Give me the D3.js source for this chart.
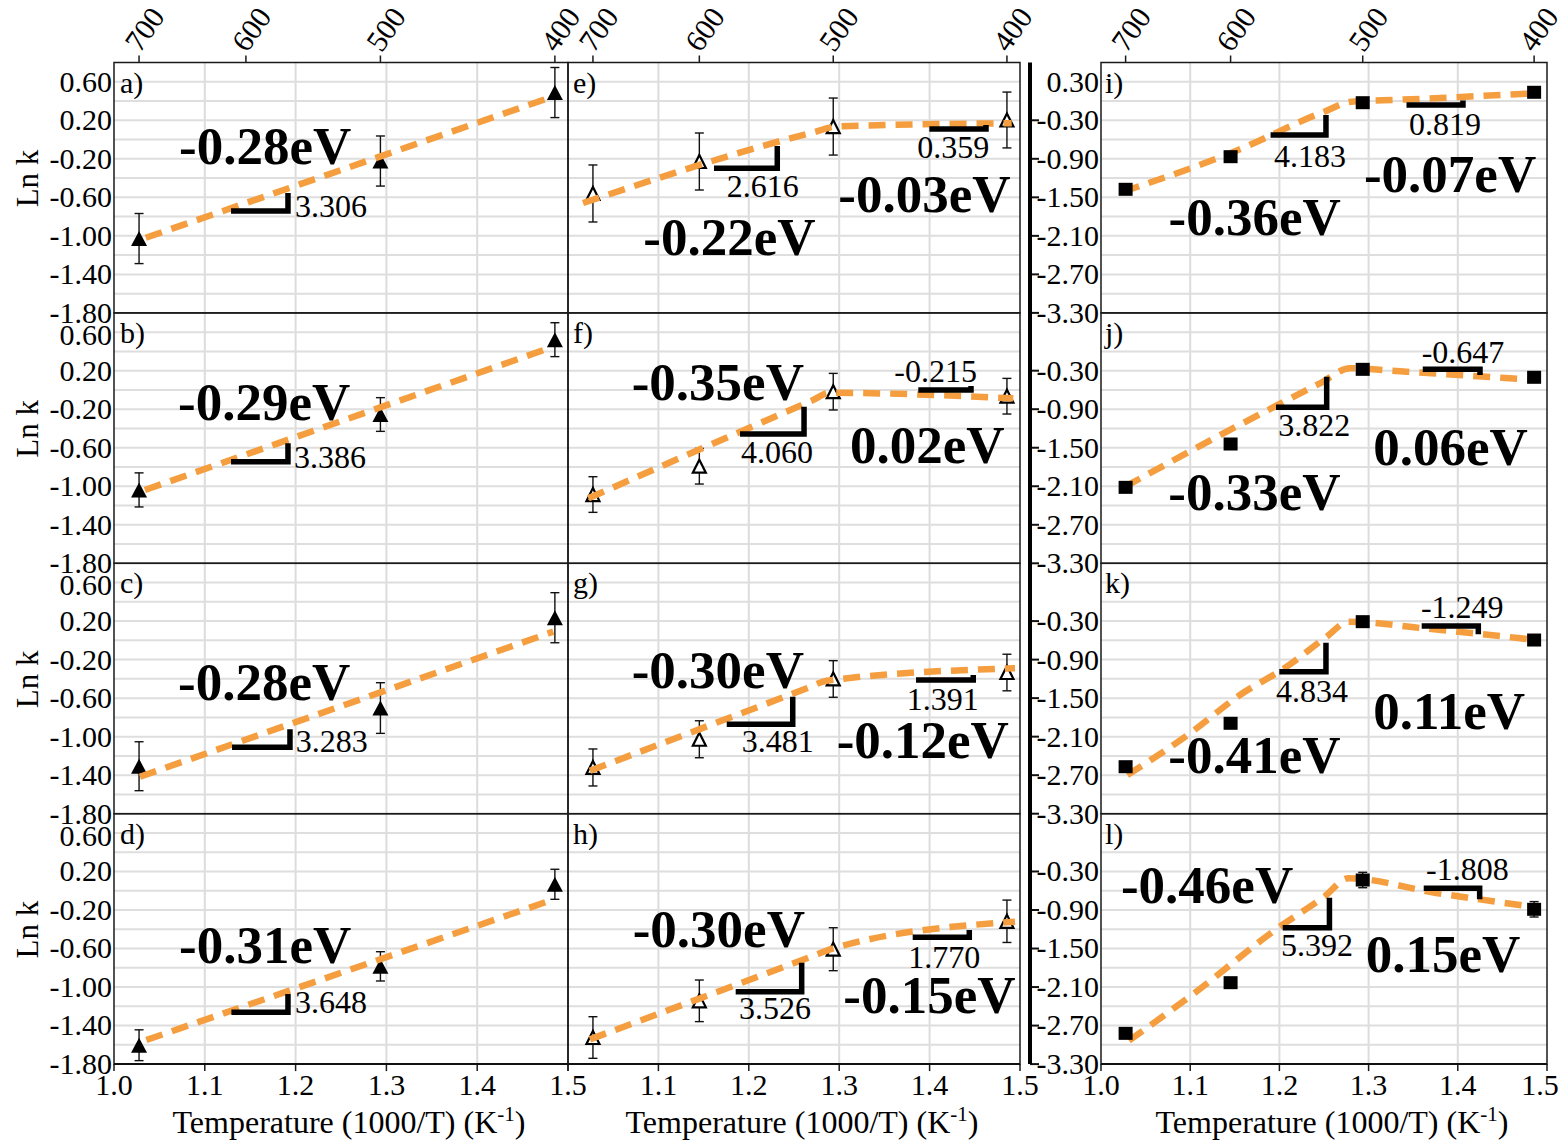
<!DOCTYPE html>
<html><head><meta charset="utf-8">
<script src="https://cdn.jsdelivr.net/npm/d3@7"></script>
<style>
body{margin:0;background:#fff}
svg{display:block}
text{font-family:'Liberation Serif','Times New Roman',serif;fill:#000}
</style>
</head><body>
<svg id="chart" width="1562" height="1141"></svg>
<script>
// ---------------- data ----------------
const panelIds = ['a','b','c','d','e','f','g','h','i','j','k','l'];
const tempsC = [700, 600, 500, 400];                 // top axis (°C)
const xTicks = [1.0, 1.1, 1.2, 1.3, 1.4, 1.5];       // 1000/T
const yTicksLeft = [0.6, 0.2, -0.2, -0.6, -1.0, -1.4, -1.8];
const yTicksRight = [0.3, -0.3, -0.9, -1.5, -2.1, -2.7, -3.3];

// ln k values (column 1 uses 700, 500, 400 °C; others all four temperatures)
const lnkA = [-1.028, -0.223, 0.488],  errA = [0.26, 0.26, 0.26];
const lnkB = [-1.038, -0.255, 0.522],  errB = [0.177, 0.175, 0.176];
const lnkC = [-1.307, -0.703, 0.235],  errC = [0.254, 0.263, 0.26];
const lnkD = [-1.604, -0.785, 0.067],  errD = [0.16, 0.152, 0.156];
const lnkE = [-0.560, -0.228, 0.135, 0.203], errE = [0.296, 0.296, 0.296, 0.29];
const lnkF = [-1.086, -0.792, -0.018, -0.065], errF = [0.185, 0.185, 0.19, 0.185];
const lnkG = [-1.320, -1.027, -0.401, -0.334], errG = [0.192, 0.192, 0.19, 0.19];
const lnkH = [-1.524, -1.143, -0.607, -0.317], errH = [0.216, 0.216, 0.223, 0.22];
const lnkI = [-1.375, -0.867, -0.026, 0.136], errI = [0, 0, 0, 0];
const lnkJ = [-2.117, -1.442, -0.279, -0.403], errJ = [0, 0, 0, 0];
const lnkK = [-2.568, -1.892, -0.309, -0.595], errK = [0, 0, 0, 0];
const lnkL = [-2.821, -2.032, -0.433, -0.889], errL = [0.05, 0, 0.12, 0.12];

// fitted (dashed) curves as [1000/T, ln k]
const fitA = [[1.035, -1.02], [1.482, 0.442]];
const fitB = [[1.034, -1.039], [1.482, 0.443]];
const fitC = [[1.0286, -1.416], [1.4838, 0.090]];
const fitD = [[1.0356, -1.55], [1.4822, -0.096]];
const fitE = [[1.0166, -0.659], [1.2713, 0.075], [1.297, 0.135], [1.4908, 0.169]];
const fitF = [[1.0225, -1.125], [1.27, -0.11], [1.2898, -0.03], [1.4926, -0.087]];
const fitG = [[1.0243, -1.354], [1.265, -0.495], [1.2862, -0.419], [1.4945, -0.29]];
const fitH = [[1.0243, -1.543], [1.27, -0.681], [1.2935, -0.598], [1.4945, -0.321]];
const fitI = [[1.0247, -1.412], [1.149, -0.79], [1.2502, -0.166], [1.281, -0.01], [1.335, 0.02], [1.4854, 0.12]];
const fitJ = [[1.027, -2.107], [1.1409, -1.25], [1.2455, -0.497], [1.279, -0.263], [1.3427, -0.316], [1.4884, -0.445]];
const fitK = [[1.0295, -2.698], [1.0998, -2.048], [1.1558, -1.451], [1.2082, -1.01], [1.253, -0.543], [1.2773, -0.309], [1.3613, -0.412], [1.4884, -0.595]];
const fitL = [[1.0313, -2.936], [1.1029, -2.213], [1.1979, -1.185], [1.2502, -0.693], [1.2774, -0.406], [1.3742, -0.63], [1.4827, -0.849]];

// annotation texts
const eaText = {a:['-0.28eV'], b:['-0.29eV'], c:['-0.28eV'], d:['-0.31eV'],
  e:['-0.22eV','-0.03eV'], f:['-0.35eV','0.02eV'], g:['-0.30eV','-0.12eV'], h:['-0.30eV','-0.15eV'],
  i:['-0.36eV','-0.07eV'], j:['-0.33eV','0.06eV'], k:['-0.41eV','0.11eV'], l:['-0.46eV','0.15eV']};
const slopeText = {a:['3.306'], b:['3.386'], c:['3.283'], d:['3.648'],
  e:['2.616','0.359'], f:['4.060','-0.215'], g:['3.481','1.391'], h:['3.526','1.770'],
  i:['4.183','0.819'], j:['3.822','-0.647'], k:['4.834','-1.249'], l:['5.392','-1.808']};

// ---------------- layout ----------------
const series = {a:[lnkA,errA,fitA], b:[lnkB,errB,fitB], c:[lnkC,errC,fitC], d:[lnkD,errD,fitD],
  e:[lnkE,errE,fitE], f:[lnkF,errF,fitF], g:[lnkG,errG,fitG], h:[lnkH,errH,fitH],
  i:[lnkI,errI,fitI], j:[lnkJ,errJ,fitJ], k:[lnkK,errK,fitK], l:[lnkL,errL,fitL]};

// annotation placement (in data coordinates of each panel)
const eaPos = {a:[[1.0716,-0.254]], b:[[1.0705,-0.311]], c:[[1.0705,-0.620]], d:[[1.0716,-0.753]],
  e:[[1.0833,-1.199],[1.299,-0.749]], f:[[1.0705,-0.104],[1.3119,-0.762]],
  g:[[1.0705,-0.492],[1.2972,-1.219]], h:[[1.0716,-0.581],[1.3045,-1.273]],
  i:[[1.0758,-2.087],[1.2948,-1.412]], j:[[1.0754,-2.470],[1.3053,-1.769]],
  k:[[1.0754,-2.671],[1.3053,-1.986]], l:[[1.0224,-0.796],[1.2968,-1.861]]};
const markPos = {a:[[1.1289,1.1916,-0.742,-0.555]], b:[[1.1289,1.1916,-0.745,-0.554]],
  c:[[1.13,1.1938,-1.111,-0.924]], d:[[1.1293,1.1916,-1.262,-1.072]],
  e:[[1.1615,1.2315,-0.299,-0.067],[1.3997,1.4624,0.109,0.151]],
  f:[[1.1903,1.2611,-0.458,-0.174],[1.3875,1.4458,-0.001,0.042]],
  g:[[1.1756,1.2486,-0.872,-0.585],[1.385,1.4483,-0.412,-0.36]],
  h:[[1.1855,1.2585,-1.048,-0.747],[1.3813,1.4439,-0.483,-0.408]],
  i:[[1.1901,1.2522,-0.529,-0.218],[1.3425,1.4058,-0.062,0.008]],
  j:[[1.1962,1.253,-0.870,-0.394],[1.3607,1.4249,-0.279,-0.366]],
  k:[[1.1999,1.2522,-1.088,-0.637],[1.3595,1.423,-0.377,-0.506]],
  l:[[1.2037,1.2561,-1.176,-0.708],[1.3618,1.4245,-0.562,-0.733]]};
const slopePos = {a:[[1.1993,-0.804]], b:[[1.1982,-0.814]], c:[[1.2001,-1.156]], d:[[1.1993,-1.273]],
  e:[[1.1756,-0.600],[1.3864,-0.195]], f:[[1.1914,-0.762],[1.3609,0.086]],
  g:[[1.1922,-1.156],[1.3747,-0.723]], h:[[1.1892,-1.332],[1.3764,-0.805]],
  i:[[1.1939,-1.023],[1.3452,-0.529]], j:[[1.1988,-1.313],[1.3595,-0.176]],
  k:[[1.1962,-1.556],[1.3587,-0.257]], l:[[1.2018,-1.617],[1.3644,-0.433]]};

const cols = [
  {x0:114, x1:568, yd:[-1.8,0.8], ticks:yTicksLeft, grid:d3.range(1,13).map(i=>-1.8+0.2*i), labX:112, letterDx:6},
  {x0:568, x1:1020, yd:[-1.8,0.8], ticks:null, grid:d3.range(1,13).map(i=>-1.8+0.2*i), letterDx:5},
  {x0:1101, x1:1547, yd:[-3.3,0.6], ticks:yTicksRight, grid:d3.range(1,13).map(i=>-3.3+0.3*i), labX:1099, letterDx:4}
];
const TOP = 62.5, ROWH = 250.4, BOTTOM = TOP + 4*ROWH;
const ORANGE = '#f59e3f';
const invT = tempsC.map(t => 1000/(t + 273.15));
const fmt2 = d => d.toFixed(2), fmt1 = d => d.toFixed(1);

const svg = d3.select('#chart');
const gGrid = svg.append('g'), gFrame = svg.append('g'), gData = svg.append('g'), gAnn = svg.append('g');

panelIds.forEach((id, n) => {
  const ci = Math.floor(n/4), ri = n % 4;
  const c = cols[ci];
  const top = TOP + ri*ROWH;
  const x = d3.scaleLinear().domain([1.0,1.5]).range([c.x0, c.x1]);
  const y = d3.scaleLinear().domain(c.yd).range([top+ROWH, top]);

  // grid
  gGrid.selectAll(null).data([1.1,1.2,1.3,1.4]).enter().append('line')
    .attr('x1', d=>x(d)).attr('x2', d=>x(d)).attr('y1', top).attr('y2', top+ROWH)
    .attr('stroke', '#dcdcdc').attr('stroke-width', 2);
  gGrid.selectAll(null).data(c.grid).enter().append('line')
    .attr('x1', c.x0).attr('x2', c.x1).attr('y1', d=>y(d)).attr('y2', d=>y(d))
    .attr('stroke', '#dedede').attr('stroke-width', 2);

  // frame
  gFrame.append('rect').attr('x', c.x0).attr('y', top).attr('width', c.x1-c.x0).attr('height', ROWH)
    .attr('fill','none').attr('stroke','#1a1a1a').attr('stroke-width',1.5);

  // y tick labels
  if (c.ticks) {
    const tks = (ci === 2 && ri > 0) ? c.ticks.filter(v => v !== 0.3) : c.ticks;
    gFrame.selectAll(null).data(tks).enter().append('text')
      .attr('x', c.labX).attr('y', (d,i)=>y(d) + (ri>0 && i===0 && ci===0 ? 3 : 0)).attr('dy','0.33em')
      .attr('text-anchor','end').attr('font-size',30)
      .text(fmt2);
  }
  if (ci === 2) {
    gFrame.selectAll(null).data(yTicksRight.filter(v=>v!==0.3)).enter().append('line')
      .attr('x1',1030).attr('x2',1039).attr('y1',d=>y(d)).attr('y2',d=>y(d))
      .attr('stroke','#111').attr('stroke-width',2);
  }
  if (ci === 0) {
    gFrame.append('text').attr('transform', `translate(38,${top+116}) rotate(-90)`)
      .attr('text-anchor','middle').attr('font-size',31).text('Ln k');
  }
  // panel letter
  gFrame.append('text').attr('x', c.x0 + c.letterDx).attr('y', top+30).attr('font-size',30).text(id + ')');

  // top axis (temperature)
  if (ri === 0) {
    gFrame.selectAll(null).data(tempsC).enter().append('line')
      .attr('x1', (d,i)=>x(invT[i])).attr('x2', (d,i)=>x(invT[i]))
      .attr('y1', top).attr('y2', top-7).attr('stroke','#1a1a1a').attr('stroke-width',1.5);
    gFrame.selectAll(null).data(tempsC).enter().append('text')
      .attr('transform', (d,i)=>`translate(${Math.min(x(invT[i])+1, 1534)},${top-9}) rotate(-55)`)
      .attr('font-size',30).text(d=>d);
  }
  // bottom axis
  if (ri === 3) {
    gFrame.selectAll(null).data(xTicks).enter().append('line')
      .attr('x1', d=>x(d)).attr('x2', d=>x(d)).attr('y1', BOTTOM).attr('y2', BOTTOM+7)
      .attr('stroke','#1a1a1a').attr('stroke-width',1.5);
    const lbls = ci === 1 ? xTicks.slice(1) : xTicks;
    gFrame.selectAll(null).data(lbls).enter().append('text')
      .attr('x', d=>Math.min(x(d), 1540)).attr('y', BOTTOM+31)
      .attr('text-anchor','middle').attr('font-size',30)
      .text(fmt1);
    const t = gFrame.append('text').attr('x', (c.x0+c.x1)/2 + 8).attr('y', 1133)
      .attr('text-anchor','middle').attr('font-size',32);
    t.append('tspan').text('Temperature (1000/T) (K');
    t.append('tspan').attr('dy',-12).attr('font-size',21).text('-1');
    t.append('tspan').attr('dy',12).text(')');
  }

  // data
  const [lnk, err, fit] = series[id];
  const xs = ci === 0 ? [invT[0], invT[2], invT[3]] : invT;
  const pts = lnk.map((v,i)=>({x: xs[i], y: v, e: err[i]}));
  const line = d3.line().x(d=>x(d[0])).y(d=>y(d[1])).curve(d3.curveMonotoneX);
  const drawLine = () => gData.append('path').attr('d', line(fit)).attr('fill','none')
      .attr('stroke', ORANGE).attr('stroke-width', 6.5).attr('stroke-dasharray','17,10');
  if (ci === 2) drawLine();

  // error bars
  const eb = gData.selectAll(null).data(pts.filter(p=>p.e>0)).enter().append('g');
  eb.append('line').attr('x1',d=>x(d.x)).attr('x2',d=>x(d.x)).attr('y1',d=>y(d.y-d.e)).attr('y2',d=>y(d.y+d.e))
    .attr('stroke','#111').attr('stroke-width',1.4);
  [1,-1].forEach(s => eb.append('line').attr('x1',d=>x(d.x)-4.5).attr('x2',d=>x(d.x)+4.5)
    .attr('y1',d=>y(d.y+s*d.e)).attr('y2',d=>y(d.y+s*d.e)).attr('stroke','#111').attr('stroke-width',1.4));

  // markers
  const mk = gData.selectAll(null).data(pts).enter();
  if (ci === 0) {
    mk.append('path').attr('d','M0,-7.5L8,7.5L-8,7.5Z')
      .attr('transform', d=>`translate(${x(d.x)},${y(d.y)})`).attr('fill','#000');
  } else if (ci === 1) {
    mk.append('path').attr('d','M0,-6.5L6.5,6.5L-6.5,6.5Z')
      .attr('transform', d=>`translate(${x(d.x)},${y(d.y)})`).attr('fill','#fff')
      .attr('stroke','#000').attr('stroke-width',2.2).attr('stroke-linejoin','miter');
  } else {
    mk.append('rect').attr('x', d=>x(d.x)-7).attr('y', d=>y(d.y)-6.5).attr('width',14).attr('height',13).attr('fill','#000');
  }
  if (ci !== 2) drawLine();

  // annotations: slope marks
  markPos[id].forEach(m => {
    gAnn.append('path').attr('d', `M${x(m[0])},${y(m[2])}H${x(m[1])}V${y(m[3])}`)
      .attr('fill','none').attr('stroke','#000').attr('stroke-width',5.5).attr('stroke-linejoin','miter');
  });
  slopePos[id].forEach((p,i) => {
    gAnn.append('text').attr('x', x(p[0])).attr('y', y(p[1])).attr('font-size',32).text(slopeText[id][i]);
  });
  eaPos[id].forEach((p,i) => {
    gAnn.append('text').attr('x', x(p[0])).attr('y', y(p[1])).attr('font-size',53)
      .attr('font-weight','bold').text(eaText[id][i]);
  });
});

// bottom axis line and the separating thick line of the third column
svg.append('line').attr('x1',114).attr('x2',1020).attr('y1',BOTTOM).attr('y2',BOTTOM).attr('stroke','#111').attr('stroke-width',2);
svg.append('line').attr('x1',1101).attr('x2',1547).attr('y1',BOTTOM).attr('y2',BOTTOM).attr('stroke','#111').attr('stroke-width',2);
svg.append('line').attr('x1',1030).attr('x2',1030).attr('y1',TOP).attr('y2',BOTTOM).attr('stroke','#000').attr('stroke-width',4);
</script>
</body></html>
